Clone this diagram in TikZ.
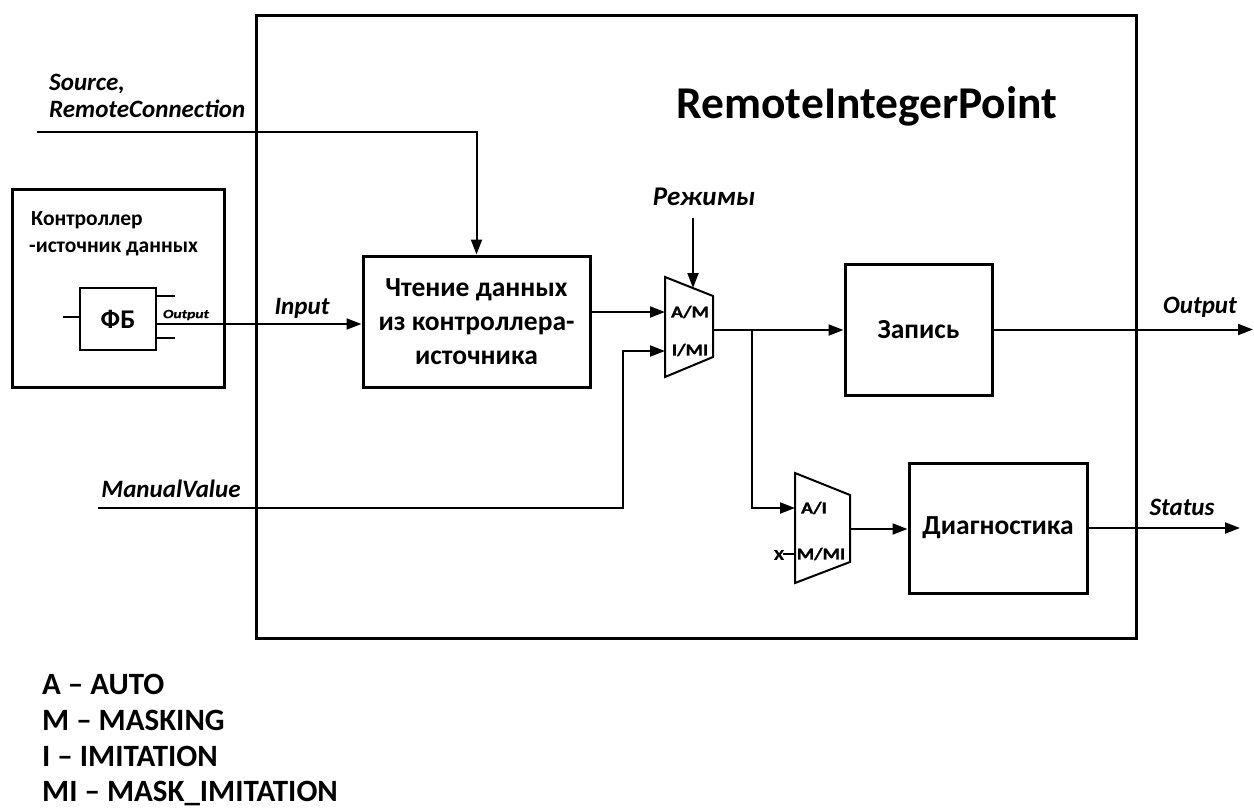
\documentclass[tikz,border=0pt]{standalone}
\usepackage{fontspec}
\setmainfont{Carlito}
\newfontfamily\widefont[FakeStretch=1.2,FakeBold=1.2]{Carlito Bold}
\newfontfamily\wideit[FakeStretch=1.25,FakeBold=0.8]{Carlito Bold Italic}
\usetikzlibrary{arrows.meta}
\begin{document}
\begin{tikzpicture}[x=1pt,y=-1pt,
  conn/.style={line width=2pt,-{Triangle[length=15pt,width=11pt]}},
  wire/.style={line width=2pt},
  blk/.style={draw,line width=3pt,inner sep=0pt,font=\fontsize{27.5}{34}\selectfont\bfseries,align=center},
  lbl/.style={font=\fontsize{25}{29}\selectfont\bfseries\itshape,inner sep=0pt},
  ctrltxt/.style={font=\fontsize{21.5}{25}\selectfont\bfseries,anchor=base west,inner sep=0pt},
  muxlbl/.style={font=\widefont\fontsize{16.5}{18}\selectfont,inner sep=0pt},
  muxbody/.style={line width=2pt,line join=miter},
  legend/.style={font=\fontsize{31}{35}\selectfont\bfseries,anchor=base west,inner sep=0pt}
]
\fill[white] (0,0) rectangle (1254,809);
\useasboundingbox (0,0) rectangle (1254,809);

% main block
\node[draw,line width=3pt,minimum width=880pt,minimum height=623pt,inner sep=0pt] (main) at (696,326.5) {};
\node[font=\fontsize{45.5}{50}\selectfont\bfseries,anchor=base,inner sep=0pt] (title) at (867,118) {RemoteIntegerPoint};

% source controller
\node[draw,line width=3pt,minimum width=212pt,minimum height=198pt,inner sep=0pt] (ctrl) at (118,288) {};
\node[ctrltxt] (ct1) at (31,225) {Контроллер};
\node[ctrltxt] (ct2) at (29,252) {-источник данных};
\node[draw,line width=2.5pt,minimum width=76pt,minimum height=62pt,inner sep=0pt,font=\fontsize{27}{29}\selectfont\bfseries] (fb) at (118,319) {ФБ};
\coordinate (fbl) at (63,317);
\coordinate (fbr1) at (175,296);
\coordinate (fbr2) at (175,338);
\draw[wire] (fbl) -- (fbl -| fb.west);
\draw[wire] (fbr1 -| fb.east) -- (fbr1);
\draw[wire] (fbr2 -| fb.east) -- (fbr2);
\node[font=\wideit\fontsize{12.5}{14}\selectfont,inner sep=0pt] (fbout) at (186,315) {Output};

% reading block
\node[blk,minimum width=227pt,minimum height=131pt] (read) at (476.5,321.5) {Чтение данных\\из контроллера-\\источника};
\coordinate (inl) at (156,324);
\draw[conn] (inl) -- (inl -| read.west);
\node[lbl] (inlbl) at (302,308) {Input};

% source, remote connection
\node[lbl,anchor=base west] (src1) at (49,90) {Source,};
\node[lbl,anchor=base west] (src2) at (49,117) {RemoteConnection};
\coordinate (src) at (37,132);
\draw[conn] (src) -| (read.north);

% mux 1
\coordinate (m1tl) at (665,277);
\coordinate (m1tr) at (713,296);
\coordinate (m1br) at (713,357);
\coordinate (m1bl) at (665,377);
\draw[muxbody] (m1tl) -- (m1tr) -- (m1br) -- (m1bl) -- cycle;
\coordinate (m1a) at (665,312);
\coordinate (m1b) at (665,351);
\coordinate (m1o) at (713,330);
\node[muxlbl] (m1la) at (690,312) {A/M};
\node[muxlbl] (m1lb) at (690,350) {I/MI};
\draw[conn] (read.east |- m1a) -- (m1a);

% modes
\node[lbl,font=\fontsize{27}{30}\selectfont\bfseries\itshape] (rez) at (704,197) {Режимы};
\coordinate (rz1) at (693,218);
\coordinate (rz2) at (693,288);
\draw[conn] (rz1) -- (rz2);

% manual value
\node[lbl] (mvlbl) at (171,489) {ManualValue};
\coordinate (mv) at (98,508);
\coordinate (mvc) at (623,508);
\draw[conn] (mv) -- (mvc) |- (m1b);

% write block
\node[blk,minimum width=147pt,minimum height=131pt] (zap) at (918.5,329.5) {Запись};
\draw[conn] (m1o) -- (m1o -| zap.west);
\coordinate (outE) at (1253,329.5);
\draw[conn] (zap.east) -- (outE);
\node[lbl] (outlbl) at (1200,307) {Output};

% mux 2
\coordinate (jn) at (752,330);
\coordinate (m2tl) at (795,473);
\coordinate (m2tr) at (850,495);
\coordinate (m2br) at (850,562);
\coordinate (m2bl) at (795,583);
\draw[muxbody] (m2tl) -- (m2tr) -- (m2br) -- (m2bl) -- cycle;
\coordinate (m2a) at (795,508);
\coordinate (m2b) at (795,554);
\coordinate (m2o) at (850,529);
\node[muxlbl] (m2la) at (814,508) {A/I};
\node[muxlbl] (m2lb) at (821,554) {M/MI};
\draw[conn] (jn) |- (m2a);
\coordinate (xs) at (783,554);
\draw[wire] (xs) -- (m2b);
\node[font=\widefont\fontsize{15}{16}\selectfont,inner sep=0pt] (xlbl) at (779,555) {X};

% diagnostics
\node[blk,minimum width=178pt,minimum height=130pt] (diag) at (998,528) {Диагностика};
\draw[conn] (m2o) -- (m2o -| diag.west);
\coordinate (stE) at (1240,528);
\draw[conn] (diag.east) -- (stE);
\node[lbl] (stlbl) at (1182,507) {Status};

% legend
\node[legend] (lg1) at (42,694) {A – AUTO};
\node[legend] (lg2) at (42,730) {M – MASKING};
\node[legend] (lg3) at (42,766) {I – IMITATION};
\node[legend] (lg4) at (42,801) {MI – MASK\_IMITATION};
\end{tikzpicture}
\end{document}
